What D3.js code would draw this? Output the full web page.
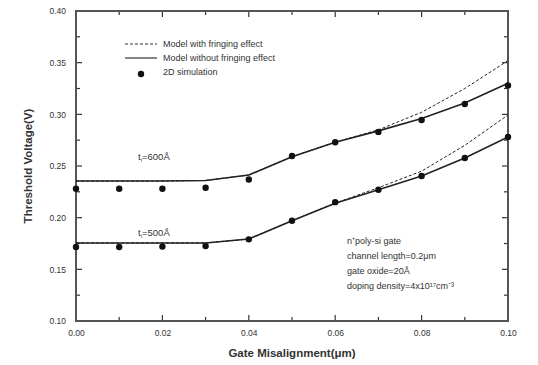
<!DOCTYPE html>
<html>
<head>
<meta charset="utf-8">
<script src="https://cdn.jsdelivr.net/npm/d3@7"></script>
<style>
  body { margin: 0; background: #fff; }
  svg text { font-family: "Liberation Sans", Arial, sans-serif; fill: #333; }
</style>
</head>
<body>
<div id="app"></div>
<script>
// ---------- Data ----------

const misalign = [0.00, 0.01, 0.02, 0.03, 0.04, 0.05, 0.06, 0.07, 0.08, 0.09, 0.10];

// t_i = 600A
const upperWith    = [0.2355, 0.2355, 0.2355, 0.2360, 0.2413, 0.2590, 0.2730, 0.2850, 0.3020, 0.3250, 0.3520];
const upperWithout = [0.2355, 0.2355, 0.2355, 0.2360, 0.2413, 0.2590, 0.2730, 0.2840, 0.2960, 0.3110, 0.3300];
const upperSim     = [0.2280, 0.2280, 0.2280, 0.2290, 0.2370, 0.2597, 0.2730, 0.2830, 0.2945, 0.3100, 0.3280];

// t_i = 500A
const lowerWith    = [0.1755, 0.1755, 0.1755, 0.1755, 0.1794, 0.1970, 0.2140, 0.2290, 0.2450, 0.2700, 0.2994];
const lowerWithout = [0.1755, 0.1755, 0.1755, 0.1755, 0.1794, 0.1970, 0.2140, 0.2270, 0.2403, 0.2577, 0.2780];
const lowerSim     = [0.1716, 0.1716, 0.1720, 0.1725, 0.1790, 0.1970, 0.2150, 0.2270, 0.2403, 0.2577, 0.2780];

const xTicks = [0.00, 0.02, 0.04, 0.06, 0.08, 0.10];
const yTicks = [0.10, 0.15, 0.20, 0.25, 0.30, 0.35, 0.40];
const xMinor = [0.01, 0.03, 0.05, 0.07, 0.09];
const yMinor = [0.125, 0.175, 0.225, 0.275, 0.325, 0.375];

const legendLabels = ["Model with fringing effect", "Model without fringing effect", "2D simulation"];
const noteLines = ["n\u207Apoly-si gate", "channel length=0.2\u03BCm", "gate oxide=20\u00C5", "doping density=4x10\u00B9\u2077cm\u207B\u00B3"];

// ---------- Layout ----------

const WIDTH = 538, HEIGHT = 365;
const LEFT = 76, RIGHT = 508, TOP = 11, BOTTOM = 321;
const MAJOR = 6, MINOR = 4;

const svg = d3.select("#app").append("svg")
    .attr("width", WIDTH)
    .attr("height", HEIGHT);

const x = d3.scaleLinear().domain([0, 0.10]).range([LEFT, RIGHT]);
const y = d3.scaleLinear().domain([0.10, 0.40]).range([BOTTOM, TOP]);

// ---------- Axes ----------

const fmt2 = d3.format(".2f");

// tick labels through d3 axes (tick marks drawn separately, inward)
svg.append("g").attr("transform", `translate(0,${BOTTOM})`)
    .call(d3.axisBottom(x).tickValues(xTicks).tickSize(0).tickPadding(9).tickFormat(fmt2))
    .call(g => g.select(".domain").remove())
    .call(g => g.selectAll("text").style("font-size", "8.5px").attr("fill", "#555"));
svg.append("g").attr("transform", `translate(${LEFT},0)`)
    .call(d3.axisLeft(y).tickValues(yTicks).tickSize(0).tickPadding(10).tickFormat(fmt2))
    .call(g => g.select(".domain").remove())
    .call(g => g.selectAll("text").style("font-size", "8.5px").attr("fill", "#555"));

// inward tick marks on all four sides
const tickG = svg.append("g").attr("stroke", "#333").attr("stroke-width", 1.2);
const xAll = xTicks.map(v => ({ v, len: MAJOR })).concat(xMinor.map(v => ({ v, len: MINOR })));
const yAll = yTicks.map(v => ({ v, len: MAJOR })).concat(yMinor.map(v => ({ v, len: MINOR })));

[[BOTTOM, -1], [TOP, 1]].forEach(([y0, dir]) => {
    tickG.append("g").selectAll("line")
        .data(xAll).enter().append("line")
        .attr("x1", d => x(d.v)).attr("x2", d => x(d.v))
        .attr("y1", y0).attr("y2", d => y0 + dir * d.len);
});
[[LEFT, 1], [RIGHT, -1]].forEach(([x0, dir]) => {
    tickG.append("g").selectAll("line")
        .data(yAll).enter().append("line")
        .attr("y1", d => y(d.v)).attr("y2", d => y(d.v))
        .attr("x1", x0).attr("x2", d => x0 + dir * d.len);
});

// frame
svg.append("rect")
    .attr("x", LEFT).attr("y", TOP)
    .attr("width", RIGHT - LEFT).attr("height", BOTTOM - TOP)
    .attr("fill", "none").attr("stroke", "#555").attr("stroke-width", 2);

// axis titles
svg.append("text")
    .attr("x", (LEFT + RIGHT) / 2).attr("y", 357)
    .attr("text-anchor", "middle")
    .style("font-size", "11.5px").style("font-weight", "bold")
    .attr("fill", "#333")
    .text("Gate Misalignment(\u03BCm)");

svg.append("text")
    .attr("transform", `translate(32, ${(TOP + BOTTOM) / 2}) rotate(-90)`)
    .attr("text-anchor", "middle")
    .style("font-size", "11.5px").style("font-weight", "bold")
    .attr("fill", "#333")
    .text("Threshold Voltage(V)");

// ---------- Lines ----------

const line = d3.line().x((d, i) => x(misalign[i])).y(d => y(d));

const series = [
    { values: upperWith, dash: "3,2" },
    { values: upperWithout, dash: null },
    { values: lowerWith, dash: "3,2" },
    { values: lowerWithout, dash: null }
];

series.forEach(s => {
    svg.append("path")
        .datum(s.values)
        .attr("d", line)
        .attr("fill", "none")
        .attr("stroke", "#222")
        .attr("stroke-width", s.dash ? 1 : 1.6)
        .attr("stroke-dasharray", s.dash);
});

// ---------- Simulation dots ----------

[upperSim, lowerSim].forEach(vals => {
    svg.append("g").selectAll("circle")
        .data(vals)
        .enter()
        .append("circle")
        .attr("cx", (d, i) => x(misalign[i]))
        .attr("cy", d => y(d))
        .attr("r", 3.2)
        .attr("fill", "#111");
});

// ---------- Series labels ----------

function tLabel(xPos, yPos, value) {
    const t = svg.append("text")
        .attr("x", xPos).attr("y", yPos)
        .style("font-size", "9.5px").attr("fill", "#333");
    t.append("tspan").text("t");
    t.append("tspan").attr("dy", 2).style("font-size", "6px").text("i");
    t.append("tspan").attr("dy", -2).text("=" + value);
}
tLabel(138, 160, "600\u00C5");
tLabel(138, 236, "500\u00C5");

// ---------- Legend ----------

const legend = svg.append("g").attr("transform", "translate(125, 44)");
legendLabels.forEach((label, i) => {
    const ly = i * 14;
    if (i < 2) {
        legend.append("line")
            .attr("x1", 0).attr("x2", 32)
            .attr("y1", ly).attr("y2", ly)
            .attr("stroke", "#333")
            .attr("stroke-width", i === 0 ? 1 : 1.2)
            .attr("stroke-dasharray", i === 0 ? "3,2" : null);
    } else {
        legend.append("circle")
            .attr("cx", 16).attr("cy", ly + 2).attr("r", 3.2).attr("fill", "#111");
    }
    legend.append("text")
        .attr("x", 38).attr("y", ly + 3)
        .style("font-size", "9px").attr("fill", "#333")
        .text(label);
});

// ---------- Notes ----------

noteLines.forEach((t, i) => {
    svg.append("text")
        .attr("x", 347).attr("y", 244 + i * 15)
        .style("font-size", "9px").attr("fill", "#333")
        .text(t);
});
</script>
</body>
</html>
